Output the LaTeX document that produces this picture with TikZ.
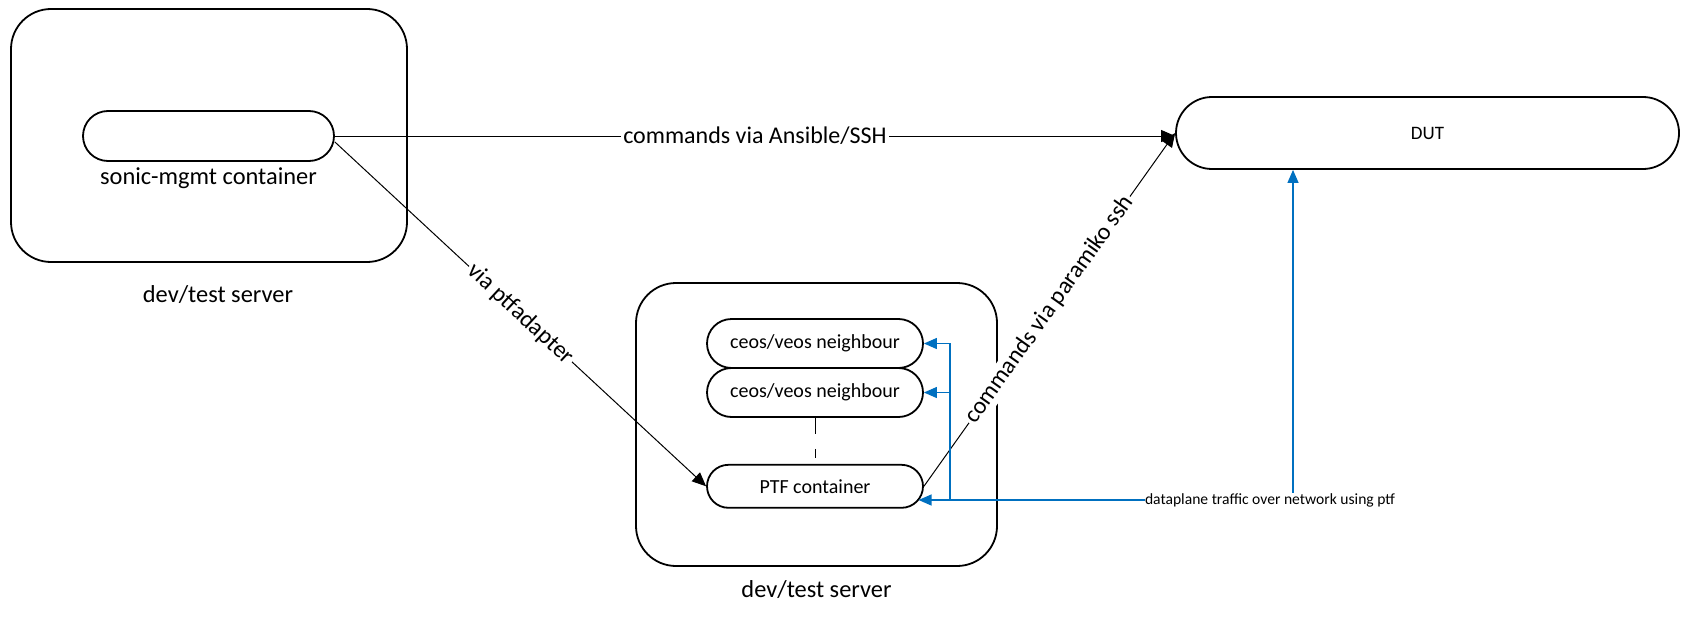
\documentclass[tikz,border=0pt]{standalone}
\usepackage{fontspec}
\setmainfont{Carlito}
\usetikzlibrary{positioning, shapes.misc, arrows.meta}
\definecolor{flowblue}{RGB}{0,112,192}
\tikzset{x=0.5pt,y=-0.5pt,
  server/.style={draw, line width=0.9pt, rounded corners=20pt, inner sep=0pt},
  pill/.style={draw, rounded rectangle, line width=0.9pt, inner sep=0pt, font=\fontsize{10}{12}\selectfont},
  tag/.style={inner sep=0pt, font=\fontsize{12.2}{14}\selectfont},
  cmd/.style={-{Triangle[length=7pt,width=6pt]}, line width=0.5pt},
  onwire/.style={fill=white, inner sep=1pt, font=\fontsize{12}{14}\selectfont},
  dataflow/.style={draw=flowblue, line width=0.6pt, -{Triangle[length=6.5pt,width=5.5pt]}},
  dashlink/.style={line width=0.5pt, dash pattern=on 8pt off 7.5pt}
}

\begin{document}
\begin{tikzpicture}
\useasboundingbox (0,0) rectangle (1690,626);
% left server
\node[server, minimum width=198pt, minimum height=126.5pt] (srvA) at (209,135.5) {};
\node[pill, minimum width=125.5pt, minimum height=25pt] (mgmt) at (208.5,136) {};
\node[tag, below=2.5pt of mgmt] (mgmtlbl) {sonic-mgmt container};
\node[tag, below=11pt of srvA, xshift=4.5pt] (srvAlbl) {dev/test server};
% right server
\node[server, minimum width=180.5pt, minimum height=141.5pt] (srvB) at (816.5,424.5) {};
\node[pill, minimum width=108pt, minimum height=24.5pt] (ceosA) at (815,343.5) {ceos/veos neighbour};
\node[pill, minimum width=108pt, minimum height=24.5pt, below=-0.9pt of ceosA] (ceosB) {ceos/veos neighbour};
\node[pill, minimum width=108pt, minimum height=21.5pt, below=23pt of ceosB] (ptf) {PTF container};
\node[tag, below=6.5pt of srvB] (srvBlbl) {dev/test server};
% DUT and traffic note
\node[pill, minimum width=251.5pt, minimum height=36pt, font=\fontsize{9.5}{11}\selectfont] (dut) at (1427.5,133) {DUT};
\node[inner sep=0pt, font=\fontsize{7.8}{9}\selectfont] (dp) at (1270,500) {dataplane traffic over network using ptf};
\coordinate (split) at (950,500);

\draw[cmd] (mgmt.east) -- node[onwire]{commands via Ansible/SSH} (mgmt.east -| dut.west);
\draw[cmd] ([yshift=-3pt]mgmt.east) -- node[onwire, sloped]{via ptfadapter} (ptf.west);
\draw[cmd] (ptf.east) -- node[onwire, sloped]{commands via paramiko ssh} (dut.west);
\draw[dashlink] (ceosB.south) -- ([yshift=3pt]ptf.north);

\draw[dataflow] (dp.west) -- (dp.west -| ptf.-8);
\draw[dataflow] (split) |- (ceosA.east);
\draw[dataflow] (split |- ceosB.east) -- (ceosB.east);
\draw[dataflow] ([xshift=11.5pt]dp.north) -- ([xshift=11.5pt]dp.north |- dut.south);
\end{tikzpicture}
\end{document}
